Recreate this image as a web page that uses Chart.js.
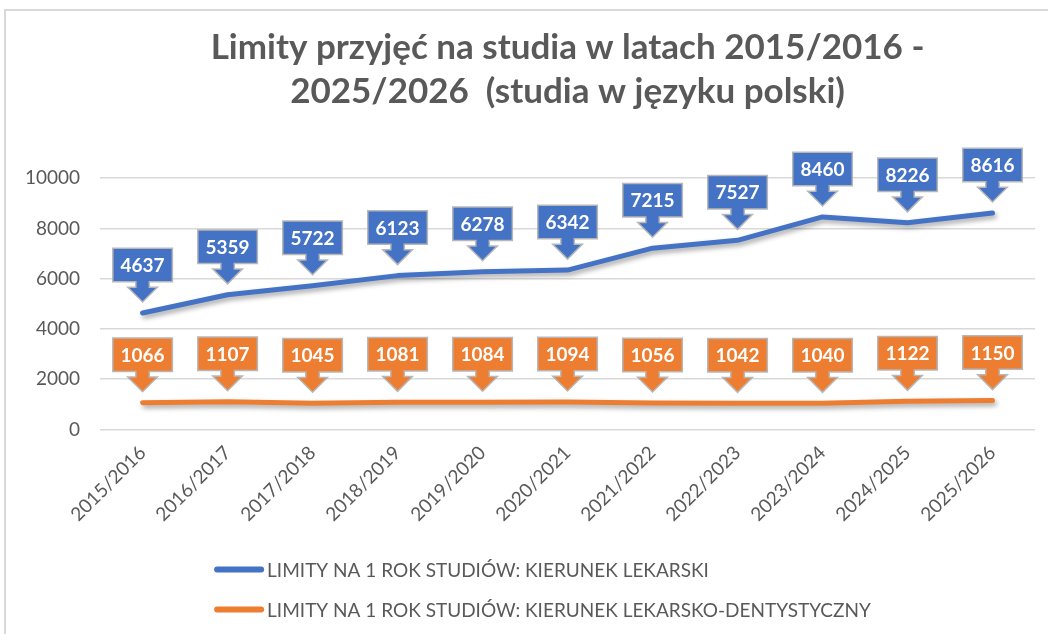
<!DOCTYPE html>
<html>
<head>
<meta charset="utf-8">
<script src="https://cdn.jsdelivr.net/npm/chart.js@4"></script>
<style>
  html, body { margin: 0; padding: 0; background: #fff; }
  #frame { position: absolute; left: 4px; top: 9px; width: 1100px; height: 700px; border: 2px solid #d9d9d9; }
  #wrap { position: absolute; left: 0; top: 0; width: 1048px; height: 634px; }
</style>
</head>
<body>
<div id="frame"></div>
<div id="wrap"><canvas id="limityChart" width="1048" height="634"></canvas></div>
<script>
// Data
var years = ['2015/2016', '2016/2017', '2017/2018', '2018/2019', '2019/2020', '2020/2021',
             '2021/2022', '2022/2023', '2023/2024', '2024/2025', '2025/2026'];
var lekarski = [4637, 5359, 5722, 6123, 6278, 6342, 7215, 7527, 8460, 8226, 8616];
var dentystyczny = [1066, 1107, 1045, 1081, 1084, 1094, 1056, 1042, 1040, 1122, 1150];
var yTicks = [0, 2000, 4000, 6000, 8000, 10000];

var seriesNames = ['LIMITY NA 1 ROK STUDIÓW: KIERUNEK LEKARSKI',
                   'LIMITY NA 1 ROK STUDIÓW: KIERUNEK LEKARSKO-DENTYSTYCZNY'];
var blue = '#4472C4';
var orange = '#ED7D31';
var textGray = '#595959';

// soft shadow under the lines
var lineShadow = {
  id: 'lineShadow',
  beforeDatasetDraw: function (chart) {
    var ctx = chart.ctx;
    ctx.save();
    ctx.shadowColor = 'rgba(0,0,0,0.35)';
    ctx.shadowBlur = 5;
    ctx.shadowOffsetX = 2;
    ctx.shadowOffsetY = 3;
  },
  afterDatasetDraw: function (chart) {
    chart.ctx.restore();
  }
};

// callout labels (box with down arrow) above each point
var callouts = {
  id: 'callouts',
  afterDatasetsDraw: function (chart) {
    var ctx = chart.ctx;
    ctx.save();
    ctx.font = 'bold 19px Lato';
    ctx.textAlign = 'center';
    ctx.textBaseline = 'middle';
    chart.data.datasets.forEach(function (ds, i) {
      var meta = chart.getDatasetMeta(i);
      meta.data.forEach(function (pt, j) {
        var cx = pt.x, cy = pt.y;
        var txt = String(ds.data[j]);
        var w = ctx.measureText(txt).width + 14;
        var h = 32;
        var tip = cy - 12;
        var headTop = tip - 13;
        var boxBottom = headTop - 7;
        var boxTop = boxBottom - h;
        var bx = cx - w / 2;
        ctx.beginPath();
        ctx.moveTo(bx, boxTop);
        ctx.lineTo(bx + w, boxTop);
        ctx.lineTo(bx + w, boxBottom);
        ctx.lineTo(cx + 6, boxBottom);
        ctx.lineTo(cx + 6, headTop);
        ctx.lineTo(cx + 13, headTop);
        ctx.lineTo(cx, tip);
        ctx.lineTo(cx - 13, headTop);
        ctx.lineTo(cx - 6, headTop);
        ctx.lineTo(cx - 6, boxBottom);
        ctx.lineTo(bx, boxBottom);
        ctx.closePath();
        ctx.lineWidth = 3;
        ctx.strokeStyle = 'rgba(165,165,165,0.8)';
        ctx.stroke();
        ctx.fillStyle = ds.borderColor;
        ctx.fill();
        ctx.fillStyle = '#ffffff';
        ctx.fillText(txt, cx, boxTop + h / 2 + 1);
      });
    });
    ctx.restore();
  }
};

// legend stacked vertically under the axis labels
var stackedLegend = {
  id: 'stackedLegend',
  afterDraw: function (chart) {
    var ctx = chart.ctx;
    var area = chart.chartArea;
    var x0 = area.left + 114;
    var y0 = area.bottom + 140;
    ctx.save();
    ctx.font = '19px Lato';
    ctx.textBaseline = 'middle';
    chart.data.datasets.forEach(function (ds, i) {
      var y = y0 + i * 40;
      ctx.beginPath();
      ctx.moveTo(x0 + 3, y);
      ctx.lineTo(x0 + 47, y);
      ctx.lineCap = 'round';
      ctx.lineWidth = 6;
      ctx.strokeStyle = ds.borderColor;
      ctx.stroke();
      ctx.fillStyle = textGray;
      ctx.fillText(ds.label, x0 + 53, y + 1);
    });
    ctx.restore();
  }
};

var ctx = document.getElementById('limityChart').getContext('2d');

var chart = new Chart(ctx, {
  type: 'line',
  data: {
    labels: years,
    datasets: [{
      label: seriesNames[0],
      data: lekarski,
      borderColor: blue,
      backgroundColor: blue,
      borderWidth: 5,
      borderCapStyle: 'round',
      borderJoinStyle: 'round',
      pointRadius: 0,
      tension: 0
    }, {
      label: seriesNames[1],
      data: dentystyczny,
      borderColor: orange,
      backgroundColor: orange,
      borderWidth: 5,
      borderCapStyle: 'round',
      borderJoinStyle: 'round',
      pointRadius: 0,
      tension: 0
    }]
  },
  options: {
    responsive: false,
    animation: false,
    layout: { padding: { left: 5, right: 13, top: 0, bottom: 104 } },
    plugins: {
      legend: { display: false },
      tooltip: { enabled: false },
      title: {
        display: true,
        fullSize: false,
        text: ['Limity przyjęć na studia w latach 2015/2016 -', '2025/2026  (studia w języku polski)'],
        color: textGray,
        font: { family: 'Lato', size: 35, weight: 'bold', lineHeight: 1.26 },
        padding: { top: 26, bottom: 64 }
      }
    },
    scales: {
      x: {
        offset: true,
        grid: { display: false },
        border: { display: false },
        ticks: {
          color: textGray,
          font: { family: 'Lato', size: 19 },
          minRotation: 45,
          maxRotation: 45,
          padding: 4
        }
      },
      y: {
        min: 0,
        max: 10000,
        afterBuildTicks: function (axis) {
          axis.ticks = yTicks.map(function (v) { return { value: v }; });
        },
        grid: { color: '#d9d9d9', lineWidth: 1.5, drawTicks: false },
        border: { display: false },
        ticks: {
          color: textGray,
          font: { family: 'Lato', size: 19 },
          padding: 20,
          callback: function (v) { return String(v); }
        }
      }
    }
  },
  plugins: [lineShadow, callouts, stackedLegend]
});
</script>
</body>
</html>
